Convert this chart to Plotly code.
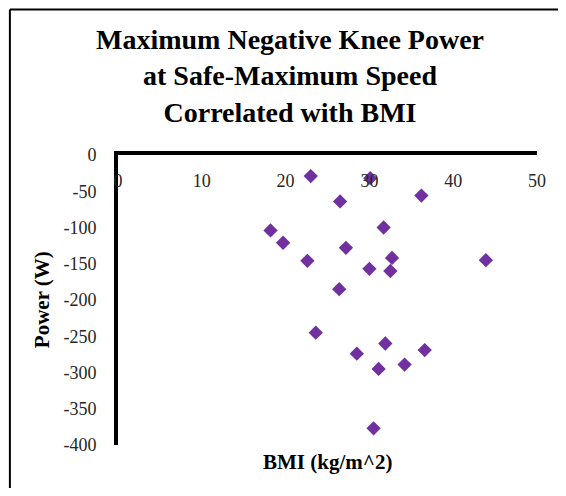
import plotly.graph_objects as go

# BMI vs maximum negative knee power (W)
bmi = [23.0, 30.1, 26.5, 36.2, 18.2, 31.7, 19.7, 27.2, 22.6, 32.7, 43.9,
       30.0, 32.5, 26.4, 23.6, 28.5, 31.9, 36.6, 31.1, 34.2, 30.5]
power = [-29, -32, -64, -56, -104, -100, -121, -128, -146, -142, -145,
         -157, -160, -185, -245, -274, -260, -269, -295, -289, -377]

x_ticks = [0, 10, 20, 30, 40, 50]
y_ticks = [0, -50, -100, -150, -200, -250, -300, -350, -400]
y_labels = ['0', '-50', '-100', '-150', '-200', '-250', '-300', '-350', '-400']

serif = "Liberation Serif, Times New Roman, serif"
# page body has an 8px margin, so the figure is shifted by 8px and kept
# small enough not to cause scrollbars
off = 8
W, H = 566 - 2 * off, 496 - 2 * off

fig = go.Figure()
fig.add_trace(go.Scatter(x=bmi, y=power,
                         mode='markers',
                         marker=dict(symbol='diamond', size=11, color='#7030A0'),
                         showlegend=False))

fig.update_xaxes(range=[0, 50], side='top',
                 tickvals=x_ticks, ticklabelposition='inside',
                 ticklabelstandoff=20, ticks='', ticklabeloverflow='allow',
                 showline=True, linewidth=4, linecolor='black',
                 showgrid=False, zeroline=False,
                 tickfont=dict(family=serif, size=18, color='#262626'))
fig.update_yaxes(range=[-400, 0],
                 tickvals=y_ticks, ticktext=y_labels,
                 ticks='', ticklabelstandoff=14, ticklabeloverflow='allow',
                 showline=True, linewidth=4, linecolor='black',
                 showgrid=False, zeroline=False,
                 tickfont=dict(family=serif, size=18, color='#262626'))

# outer frame: only its left and top edges are visible in the crop
fx, fy = -0.258, 1.502
fig.add_shape(type='line', xref='paper', yref='paper',
              x0=fx, x1=fx, y0=-0.3, y1=fy,
              line=dict(color='black', width=2), layer='below')
fig.add_shape(type='line', xref='paper', yref='paper',
              x0=fx, x1=1.2, y0=fy, y1=fy,
              line=dict(color='black', width=2), layer='below')

fig.add_annotation(text='BMI (kg/m^2)', xref='paper', yref='paper',
                   x=0.5, y=-0.058, xanchor='center', yanchor='middle', showarrow=False,
                   font=dict(family=serif, size=21, color='black', weight='bold'))
fig.add_annotation(text='Power (W)', xref='paper', yref='paper',
                   x=-0.181, y=0.5, xanchor='center', yanchor='middle',
                   textangle=-90, showarrow=False,
                   font=dict(family=serif, size=21, color='black', weight='bold'))

fig.update_layout(
    width=W, height=H,
    margin=dict(l=118 - off, r=W + off - 537, t=155 - off, b=H + off - 445),
    paper_bgcolor='white', plot_bgcolor='white',
    title=dict(text='Maximum Negative Knee Power<br>at Safe-Maximum Speed<br>Correlated with BMI',
               x=(290 - off) / W, xanchor='center',
               y=1 - (76 - off - 27) / H, yanchor='middle',
               font=dict(family=serif, size=28, color='black', weight='bold')),
)

fig.write_html("out.html")
